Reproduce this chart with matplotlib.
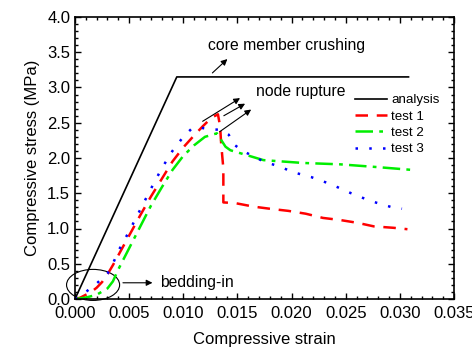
import matplotlib.pyplot as plt
from matplotlib.patches import Ellipse

plt.rcParams['font.family'] = ['Liberation Sans', 'DejaVu Sans']

# analysis
analysis_x = [0.0, 0.0094, 0.0308]
analysis_y = [0.0, 3.15, 3.15]

# test 1
t1_x = [0.0, 0.0005, 0.001, 0.0015, 0.002, 0.0025, 0.003, 0.0035, 0.004, 0.005, 0.006, 0.007,
        0.008, 0.009, 0.010, 0.011, 0.0118, 0.0126, 0.0132, 0.0134, 0.0135, 0.0137, 0.0137,
        0.0148, 0.0165, 0.018, 0.0197, 0.0213, 0.0229, 0.0245, 0.0261, 0.0276, 0.0294, 0.0307]
t1_y = [0.0, 0.02, 0.06, 0.10, 0.16, 0.24, 0.35, 0.48, 0.62, 0.90, 1.18, 1.45,
        1.70, 1.95, 2.15, 2.32, 2.45, 2.57, 2.62, 2.45, 2.20, 1.85, 1.37,
        1.36, 1.31, 1.28, 1.25, 1.21, 1.15, 1.12, 1.08, 1.03, 1.01, 0.99]

# test 2
t2_x = [0.0, 0.001, 0.002, 0.003, 0.0035, 0.004, 0.005, 0.006, 0.007, 0.008, 0.009,
        0.010, 0.011, 0.012, 0.0131, 0.0139, 0.01435, 0.0174, 0.021, 0.0245, 0.028, 0.0312]
t2_y = [0.0, 0.02, 0.06, 0.15, 0.25, 0.42, 0.72, 1.02, 1.32, 1.58, 1.83,
        2.03, 2.18, 2.30, 2.35, 2.16, 2.11, 1.97, 1.93, 1.91, 1.87, 1.83]

# test 3
t3_x = [0.0, 0.001, 0.002, 0.003, 0.0035, 0.004, 0.005, 0.006, 0.007, 0.008, 0.009,
        0.010, 0.0108, 0.0116, 0.0123, 0.0134, 0.0142, 0.0146, 0.0155, 0.0173, 0.0192,
        0.0201, 0.0218, 0.0236, 0.0255, 0.0273, 0.0293, 0.0302]
t3_y = [0.0, 0.10, 0.22, 0.36, 0.50, 0.68, 0.96, 1.26, 1.56, 1.85, 2.10,
        2.30, 2.42, 2.43, 2.41, 2.40, 2.33, 2.20, 2.10, 1.96, 1.86,
        1.80, 1.73, 1.63, 1.50, 1.39, 1.30, 1.28]

fig = plt.figure(figsize=(4.72, 3.49), dpi=100)
ax = fig.add_axes([75 / 472, 50 / 349, 379 / 472, 282 / 349])

ax.plot(analysis_x, analysis_y, color='black', lw=1.2, label='analysis')
ax.plot(t1_x, t1_y, color='red', lw=1.8, dashes=(5, 3.5), label='test 1')
ax.plot(t2_x, t2_y, color='#00ee00', lw=1.8, dashes=(7, 2.5, 1.5, 2.5), label='test 2')
ax.plot(t3_x, t3_y, color='blue', lw=1.8, dashes=(1, 4.5), label='test 3')

ax.set_xlim(0, 0.035)
ax.set_ylim(0, 4.0)
ax.set_xticks([0.0, 0.005, 0.010, 0.015, 0.020, 0.025, 0.030, 0.035])
ax.set_xticklabels(['0.000', '0.005', '0.010', '0.015', '0.020', '0.025', '0.030', '0.035'])
ax.set_yticks([0.0, 0.5, 1.0, 1.5, 2.0, 2.5, 3.0, 3.5, 4.0])
ax.set_yticklabels(['0.0', '0.5', '1.0', '1.5', '2.0', '2.5', '3.0', '3.5', '4.0'])
ax.minorticks_on()
ax.tick_params(which='both', direction='in', top=True, right=True, labelsize=12)
ax.tick_params(which='major', length=4, width=1)
ax.tick_params(which='minor', length=2.5, width=1)
ax.tick_params(axis='x', pad=5)
for s in ax.spines.values():
    s.set_linewidth(1.2)

ax.set_xlabel('Compressive strain', fontsize=12, labelpad=8)
ax.set_ylabel('Compressive stress (MPa)', fontsize=12, labelpad=5)

arrow = dict(arrowstyle='-|>', color='black', lw=0.8, mutation_scale=9)
ax.text(0.0123, 3.6, 'core member crushing', fontsize=11.3, va='center')
ax.annotate('', xy=(0.01426, 3.43), xytext=(0.0125, 3.18), arrowprops=arrow)

ax.text(0.0167, 2.94, 'node rupture', fontsize=11.3, va='center')
ax.annotate('', xy=(0.01546, 2.87), xytext=(0.01157, 2.50), arrowprops=arrow)
ax.annotate('', xy=(0.01593, 2.79), xytext=(0.01352, 2.58), arrowprops=arrow)
ax.annotate('', xy=(0.01648, 2.71), xytext=(0.01315, 2.35), arrowprops=arrow)

ax.add_patch(Ellipse((0.00167, 0.20), 0.0049, 0.44, fill=False, lw=0.8,
                     color='black', clip_on=False))
ax.annotate('', xy=(0.00741, 0.23), xytext=(0.00417, 0.23), arrowprops=arrow)
ax.text(0.0079, 0.23, 'bedding-in', fontsize=11.3, va='center')

ax.legend(loc='upper left', bbox_to_anchor=(0.715, 0.76), frameon=False, fontsize=9.6,
          handlelength=2.4, handletextpad=0.3, labelspacing=0.3, borderpad=0.2)

fig.savefig('out.png', dpi=100)
